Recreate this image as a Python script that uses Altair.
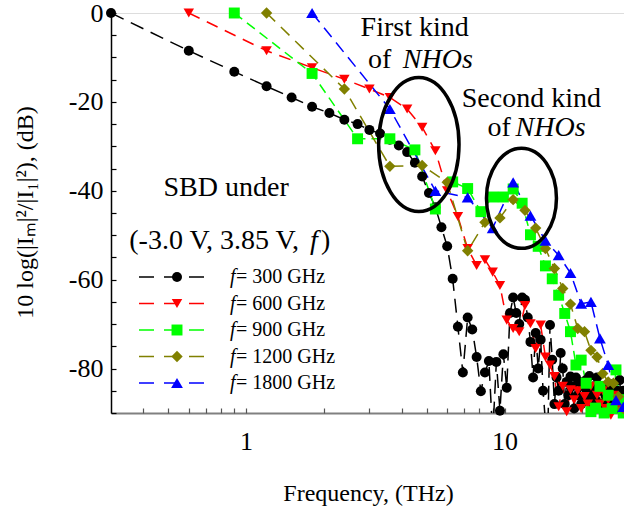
import altair as alt
import pandas as pd

# ---------------- data ----------------
series = ["f= 300 GHz", "f= 600 GHz", "f= 900 GHz", "f= 1200 GHz", "f= 1800 GHz"]
fundamental_thz = [0.3, 0.6, 0.9, 1.2, 1.8]

# harmonic power (dB) for m = 1, 2, 3, ... of each pump frequency
db_300 = [0, -8.5, -13.2, -16.5, -19.0, -21.1, -22.5, -24.0, -25.0, -26.3,
          -27.1, -28.5, -29.8, -31.3, -33.7, -36.8, -40.5, -43.7, -48.2, -52.5,
          -59.8, -70.6, -80.9, -68.5, -71.2, -77.4, -85.1, -80.9, -78.3, -95.0,
          -78.5, -89.5, -76.8, -84.3,
          -67.5, -64.0, -67.5, -70.0, -64.0, -64.5, -68.5, -74.0, -82.0, -72.0,
          -80.0, -73.5, -85.0, -92.0,
          -95.0, -70.2, -78.0, -88.0, -82.0, -85.0, -76.5, -80.0, -88.0, -83.0,
          -86.0, -81.8,
          -84.0, -89.0, -82.0, -86.0, -83.0, -88.0, -84.0, -87.0, -82.6, -85.0,
          -81.7, -86.0,
          -89.0, -84.0, -87.0, -82.0, -88.0, -85.0, -84.0, -88.0, -85.0, -86.0,
          -89.0, -84.0,
          -87.0, -85.0, -88.0, -84.8, -87.0, -89.0, -85.0, -88.0, -82.6, -86.0,
          -88.0, -85.0]
db_600 = [0, -8.5, -12.3, -14.9, -17.1, -19.0, -21.6, -25.7, -31.0, -40.0,
          -45.8, -53.0, -56.8, -55.5, -58.3, -61.3, -69.1, -71.0, -71.7, -65.8,
          -69.9, -75.5, -70.2, -77.4, -79.2, -81.8, -88.6, -84.0, -89.7, -84.8,
          -87.0, -85.0, -89.0, -86.3, -88.0, -84.0, -89.0, -86.0, -88.0, -85.0,
          -89.0, -87.0, -90.5, -86.0, -89.0, -87.0, -89.0, -88.0]
db_900 = [0, -13.6, -28.3, -28.3, -30.8, -44.1, -38.0, -39.5, -44.7, -41.4,
          -41.4, -39.6, -42.8, -49.9, -52.5, -56.9, -59.8, -63.5, -67.6, -71.7,
          -79.2, -78.1, -83.3, -89.7, -88.9, -84.0, -90.0, -86.0, -89.0, -80.3,
          -87.0, -90.0]
db_1200 = [0, -17.1, -34.5, -34.3, -38.1, -53.5, -47.1, -46.1, -42.0, -44.4,
           -48.4, -53.0, -57.5, -62.0, -65.5, -71.0, -71.7, -75.9, -77.4, -81.1,
           -83.0, -83.3, -86.3, -89.0]
db_1800 = [0, -21.6, -40.0, -41.5, -48.4, -38.1, -45.6, -51.2, -54.5, -58.5,
           -65.4, -65.0, -73.2, -79.2, -87.1, -88.6]

all_db = [db_300, db_600, db_900, db_1200, db_1800]

# annotation texts (positions in data units: THz, dB)
ann_text = ["First kind", "of", "NHOs", "Second kind", "of", "NHOs",
            "SBD under", "(-3.0 V, 3.85 V,", "f", ")"]
ann_freq = [4.49, 2.96, 4.04, 12.7, 8.6, 11.03, 0.837, 0.353, 1.766, 1.95]
ann_db = [-3.4, -10.6, -10.6, -19.3, -25.8, -25.8, -39.4, -51.2, -51.2, -51.2]
ann_style = ["normal", "normal", "italic", "normal", "normal", "italic",
             "normal", "normal", "italic", "normal"]
ann_align = ["center", "left", "left", "center", "left", "left",
             "center", "left", "left", "left"]

# NHO highlight ellipses (centre in data units)
ell_freq = [4.66, 11.63]
ell_db = [-29.6, -41.7]

# ---------------- styles ----------------
colors = ["#000000", "#ff0000", "#00ff00", "#808000", "#0000ff"]
shapes = ["circle", "triangle-down", "square", "diamond", "triangle-up"]
dashes = [[14, 8], [12, 8], [10, 6], [12, 8], [12, 7]]
widths = [1.5, 1.5, 1.5, 3, 1.5]
sizes = [100, 140, 85, 220, 140]
FONT = "Liberation Serif"

rows = []
for s, f0, vals in zip(series, fundamental_thz, all_db):
    for m, v in enumerate(vals, start=1):
        rows.append({"series": s, "m": m, "freq": round(m * f0, 4), "db": v})
df = pd.DataFrame(rows)

ann_df = pd.DataFrame({"text": ann_text, "freq": ann_freq, "db": ann_db,
                       "style": ann_style, "align": ann_align})
ell_df = pd.DataFrame({"freq": ell_freq, "db": ell_db, "k": [1, 2]})
leg_df = pd.DataFrame({"series": series, "rest": [s[1:] for s in series]})

xscale = alt.Scale(type="log", domain=[0.3, 29], nice=False)
yscale = alt.Scale(domain=[-90, 0], nice=False, zero=False)

color_enc = alt.Color("series:N", scale=alt.Scale(domain=series, range=colors), legend=None)
shape_enc = alt.Shape("series:N", scale=alt.Scale(domain=series, range=shapes), legend=None)
dash_enc = alt.StrokeDash("series:N", scale=alt.Scale(domain=series, range=dashes), legend=None)
width_enc = alt.StrokeWidth("series:O", scale=alt.Scale(domain=series, range=widths), legend=None)
size_enc = alt.Size("series:O", scale=alt.Scale(domain=series, range=sizes), legend=None)

x_main_axis = alt.Axis(values=[1, 10], labelExpr="'' + datum.value", ticks=False,
                       grid=False, domainColor="#808080", domainWidth=2,
                       labelFont=FONT, labelFontSize=26, labelColor="black",
                       labelPadding=15, labelFlush=False,
                       title="Frequency, (THz)", titleFont=FONT, titleFontSize=24,
                       titleFontWeight="normal", titleColor="black",
                       titleX=257, titleY=80, titleBaseline="middle")
y_main_axis = alt.Axis(values=[0, -20, -40, -60, -80], labelExpr="'' + datum.value",
                       ticks=False, grid=False, domainColor="black", domainWidth=1.5,
                       labelFont=FONT, labelFontSize=26, labelColor="black",
                       labelPadding=8, labelFlush=False,
                       title="10 log(|I\u2098|\u00b2/|I\u2081|\u00b2), (dB)",
                       titleFont=FONT, titleFontSize=24, titleFontWeight="normal",
                       titleColor="black", titleAngle=-90, titleX=-86, titleY=199,
                       titleBaseline="middle", titleAlign="center")
x_tick_vals = [0.4, 0.5, 0.6, 0.7, 0.8, 0.9, 1, 2, 3, 4, 5, 6, 7, 8, 9, 10, 20]
y_tick_vals = [-5 * k for k in range(0, 19)]
x_tick_axis = alt.Axis(values=x_tick_vals, labels=False, domain=False, grid=False,
                       tickSize=5, tickColor="#555555", tickWidth=1.2, offset=-5,
                       title=None, orient="bottom")
y_tick_axis = alt.Axis(values=y_tick_vals, labels=False, domain=False, grid=False,
                       tickSize=5, tickColor="black", tickWidth=1.2, offset=-5,
                       title=None, orient="left")

base = alt.Chart(df)
lines = base.mark_line(clip=True).encode(
    x=alt.X("freq:Q", scale=xscale, axis=x_main_axis),
    y=alt.Y("db:Q", scale=yscale, axis=y_main_axis),
    color=color_enc, strokeDash=dash_enc, strokeWidth=width_enc,
    order=alt.Order("m:Q"),
)
points = base.transform_filter("datum.db >= -91").mark_point(filled=True, opacity=1).encode(
    x=alt.X("freq:Q", scale=xscale, axis=x_tick_axis),
    y=alt.Y("db:Q", scale=yscale, axis=y_tick_axis),
    color=color_enc, shape=shape_enc, size=size_enc,
)

ell_path1 = "M -0.6,0 A 0.6,1 0 1,1 0.6,0 A 0.6,1 0 1,1 -0.6,0 Z"
ell_path2 = "M -0.7,0 A 0.7,1 0 1,1 0.7,0 A 0.7,1 0 1,1 -0.7,0 Z"
ell1 = alt.Chart(ell_df).transform_filter("datum.k == 1").mark_point(
    shape=ell_path1, size=17956, filled=False, stroke="black", strokeWidth=3.5, opacity=1
).encode(x=alt.X("freq:Q", scale=xscale, axis=None), y=alt.Y("db:Q", scale=yscale, axis=None))
ell2 = alt.Chart(ell_df).transform_filter("datum.k == 2").mark_point(
    shape=ell_path2, size=10000, filled=False, stroke="black", strokeWidth=3.5, opacity=1
).encode(x=alt.X("freq:Q", scale=xscale, axis=None), y=alt.Y("db:Q", scale=yscale, axis=None))


def ann_layer(style, align):
    return alt.Chart(ann_df).transform_filter(
        f"datum.style == '{style}' && datum.align == '{align}'"
    ).mark_text(font=FONT, fontSize=28, fontStyle=style, align=align,
                baseline="middle", color="black").encode(
        x=alt.X("freq:Q", scale=xscale, axis=None),
        y=alt.Y("db:Q", scale=yscale, axis=None),
        text="text:N",
    )


texts = [ann_layer("normal", "center"), ann_layer("normal", "left"),
         ann_layer("italic", "left")]

main = alt.layer(lines, points, ell1, ell2, *texts).resolve_axis(
    x="independent", y="independent")

# ---------------- legend (drawn inside the plot) ----------------
leg_y = alt.Y("series:N", scale=alt.Scale(type="point", domain=series,
                                           range=[264, 370], padding=0), axis=None)
leg_base = alt.Chart(leg_df)
leg_rule = leg_base.mark_rule(strokeDash=[15, 10]).encode(
    x=alt.value(28), x2=alt.value(98), y=leg_y, color=color_enc, strokeWidth=width_enc)
leg_pts = leg_base.mark_point(filled=True, opacity=1).encode(
    x=alt.value(66), y=leg_y, color=color_enc, shape=shape_enc, size=size_enc)
leg_f = leg_base.mark_text(font=FONT, fontSize=20, fontStyle="italic", align="left",
                           baseline="middle", color="black").encode(
    x=alt.value(119), y=leg_y, text=alt.value("f"))
leg_txt = leg_base.mark_text(font=FONT, fontSize=20, align="left",
                             baseline="middle", color="black").encode(
    x=alt.value(125), y=leg_y, text="rest:N")
legend = alt.layer(leg_rule, leg_pts, leg_f, leg_txt)

chart = alt.layer(main, legend).resolve_scale(y="independent").properties(
    width=513, height=400,
    padding={"left": 111, "top": 13, "right": 0, "bottom": 96},
    autosize=alt.AutoSizeParams(type="none"),
).configure_view(stroke="#666666", strokeWidth=1.5).configure(background="white")

chart.save("out.html", embed_options={"renderer": "svg", "actions": False})
